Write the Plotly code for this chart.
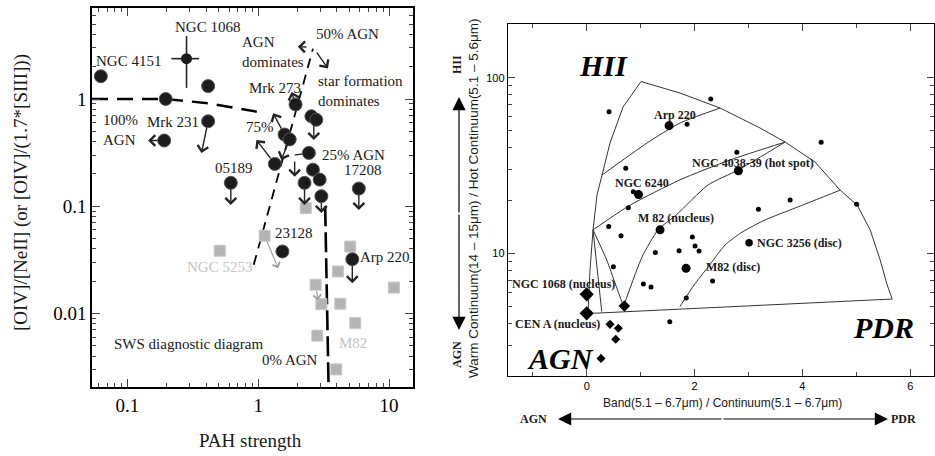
import numpy as np
import plotly.graph_objects as go

W, H = 935, 456

# ---------------- left panel data (PAH strength vs [OIV]/[NeII]) ----------------
circ_x = [0.0626, 0.414, 0.196, 0.414, 0.191, 0.617, 1.34, 1.59, 1.74, 1.93, 2.55, 2.78,
          2.44, 2.62, 2.95, 2.26, 3.04, 5.88, 1.53, 5.24]
circ_y = [1.63, 1.32, 1.0, 0.62, 0.41, 0.165, 0.248, 0.466, 0.42, 0.89, 0.69, 0.64,
          0.314, 0.219, 0.177, 0.165, 0.124, 0.146, 0.0378, 0.032]
n1068_x = [0.283]
n1068_y = [2.38]
n1068_xlo = [0.217]
n1068_xhi = [0.353]
n1068_ylo = [1.27]
n1068_yhi = [3.86]
sq_x = [0.508, 1.12, 5.05, 4.07, 2.75, 3.04, 4.24, 10.9, 5.52, 2.83, 3.95, 2.31]
sq_y = [0.0384, 0.053, 0.042, 0.0246, 0.0185, 0.0122, 0.0123, 0.0174, 0.0081, 0.0062, 0.003, 0.096]
# limit / direction arrows: tail -> head
arr_tail_x = [0.414, 0.191, 0.617, 1.34, 1.59, 1.74, 1.93, 2.66, 1.90, 2.26, 3.04, 5.88, 5.24, 2.62, 2.62]
arr_tail_y = [0.62, 0.41, 0.165, 0.248, 0.466, 0.42, 0.89, 0.665, 0.30, 0.165, 0.124, 0.146, 0.032, 3.05, 3.05]
arr_head_x = [0.368, 0.144, 0.617, 0.969, 1.30, 1.50, 1.80, 2.66, 1.90, 2.26, 3.04, 5.88, 5.24, 2.01, 3.41]
arr_head_y = [0.313, 0.41, 0.1026, 0.415, 0.735, 0.27, 1.16, 0.415, 0.188, 0.1026, 0.0865, 0.092, 0.0191, 3.07, 1.93]
garr_tail_x = [1.12, 2.75]
garr_tail_y = [0.053, 0.0185]
garr_head_x = [1.42, 2.86]
garr_head_y = [0.0264, 0.0133]
brk_x = [2.44, 1.90]
brk_y = [0.314, 0.30]
mix_x = [0.0536, 0.196, 0.412, 0.975]
mix_y = [1.0, 1.0, 0.912, 0.761]
diag_x = [0.924, 2.62]
diag_y = [0.0284, 2.94]
vert_x = [3.25, 3.45]
vert_y = [0.100, 0.0021]

# ---------------- right panel data (Laurent et al. diagnostic) ----------------
dot_x = [0.414, 2.30, 1.861, 0.724, 2.783, 4.347, 0.865, 0.772, 3.184, 3.772, 5.006, 0.408,
         0.636, 1.273, 1.712, 1.959, 2.009, 2.083, 0.494, 2.334, 1.050, 1.193, 1.846, 1.540]
dot_y = [64.0, 75.6, 54.3, 30.5, 37.6, 42.9, 22.4, 18.2, 17.8, 20.1, 19.0, 14.2,
         12.6, 10.1, 10.35, 12.4, 11.0, 10.3, 8.39, 6.96, 6.69, 6.43, 5.56, 4.08]
big_x = [1.527, 2.813, 0.961, 1.360, 1.842]
big_y = [53.3, 29.5, 21.6, 13.6, 8.21]
mid_x = [3.011]
mid_y = [11.5]
dia_big_x = [0.0, 0.0]
dia_big_y = [5.84, 4.55]
dia_mid_x = [0.698]
dia_mid_y = [5.01]
dia_sm_x = [0.432, 0.586, 0.538, 0.265]
dia_sm_y = [3.94, 3.74, 3.24, 2.52]

outer_x = [0.024, 0.061, 0.117, 0.191, 0.284, 0.432, 0.673, 1.007, 1.729, 2.473, 3.215, 3.679,
           4.234, 4.70, 5.016, 5.256, 5.442, 5.572, 5.664, 0.024]
outer_y = [4.54, 8.03, 13.6, 21.5, 27.9, 42.5, 68.1, 95.1, 81.8, 67.2, 51.7, 43.0,
           33.1, 22.9, 18.8, 13.6, 9.16, 6.60, 5.49, 4.54]
arp_x = [0.284, 1.119, 1.729, 2.473]
arp_y = [27.9, 42.5, 55.2, 67.2]
l6240_x = [0.117, 0.803, 1.729, 2.659, 3.679]
l6240_y = [13.6, 18.8, 26.2, 34.0, 43.0]
l4038_x = [0.683, 1.026, 1.323, 1.657, 2.25, 2.807, 3.679]
l4038_y = [4.98, 9.53, 13.6, 16.5, 24.5, 29.8, 43.0]
node1_x = [0.117, 0.278]
node1_y = [13.6, 4.66]
node2_x = [0.117, 0.371, 0.525, 0.683]
node2_y = [13.6, 9.16, 6.77, 4.98]
l3256_x = [1.729, 1.991, 2.25, 2.566, 2.881, 3.308, 3.864, 4.70]
l3256_y = [4.98, 6.60, 8.36, 11.15, 13.2, 15.5, 18.1, 22.9]

SERIF = "Liberation Serif"
SANS = "Liberation Sans"

fig = go.Figure()

# ---- left panel traces ----
def dline(x, y, dash, width=2.2):
    fig.add_trace(go.Scatter(x=x, y=y, mode="lines", xaxis="x", yaxis="y",
                             line=dict(color="black", width=width, dash=dash),
                             hoverinfo="skip", showlegend=False))

dline(mix_x, mix_y, "16px,9px", 2.4)
dline(diag_x, diag_y, "10px,7px", 1.8)
dline(vert_x, vert_y, "20px,6px", 2.6)
fig.add_trace(go.Scatter(x=brk_x, y=brk_y, mode="lines", xaxis="x", yaxis="y",
                         line=dict(color="#222", width=1.3), showlegend=False))
fig.add_trace(go.Scatter(x=sq_x, y=sq_y, mode="markers", xaxis="x", yaxis="y",
                         marker=dict(symbol="square", size=11, color="#b4b4b4",
                                     line=dict(color="#c8c8c8", width=1)),
                         showlegend=False))
fig.add_trace(go.Scatter(x=circ_x, y=circ_y, mode="markers", xaxis="x", yaxis="y",
                         marker=dict(symbol="circle", size=13, color="#1c1c1c",
                                     line=dict(color="#555", width=1)),
                         showlegend=False))
fig.add_trace(go.Scatter(x=n1068_x, y=n1068_y, mode="markers", xaxis="x", yaxis="y",
                         marker=dict(symbol="circle", size=11, color="#1c1c1c"),
                         error_x=dict(type="data", symmetric=False, width=0, thickness=1.6, color="#222",
                                      array=[n1068_xhi[0] - n1068_x[0]],
                                      arrayminus=[n1068_x[0] - n1068_xlo[0]]),
                         error_y=dict(type="data", symmetric=False, width=0, thickness=1.6, color="#222",
                                      array=[n1068_yhi[0] - n1068_y[0]],
                                      arrayminus=[n1068_y[0] - n1068_ylo[0]]),
                         showlegend=False))

# ---- right panel traces ----
def rline(x, y):
    fig.add_trace(go.Scatter(x=x, y=y, mode="lines", xaxis="x2", yaxis="y2",
                             line=dict(color="#333", width=1, shape="spline", smoothing=0.6),
                             hoverinfo="skip", showlegend=False))

for lx, ly in [(arp_x, arp_y), (l6240_x, l6240_y), (l4038_x, l4038_y),
               (node1_x, node1_y), (node2_x, node2_y), (l3256_x, l3256_y)]:
    rline(lx, ly)
fig.add_trace(go.Scatter(x=outer_x, y=outer_y, mode="lines", xaxis="x2", yaxis="y2",
                         line=dict(color="#333", width=1), hoverinfo="skip", showlegend=False))

def rmark(x, y, sym, size):
    fig.add_trace(go.Scatter(x=x, y=y, mode="markers", xaxis="x2", yaxis="y2",
                             marker=dict(symbol=sym, size=size, color="black"),
                             showlegend=False))

rmark(dot_x, dot_y, "circle", 5)
rmark(big_x, big_y, "circle", 9)
rmark(mid_x, mid_y, "circle", 7.5)
rmark(dia_big_x, dia_big_y, "diamond", 11)
rmark(dia_mid_x, dia_mid_y, "diamond", 9)
rmark(dia_sm_x, dia_sm_y, "diamond", 7)

# ---------------- annotations ----------------
ann = []
L = np.log10
for tx, ty, hx, hy in zip(arr_tail_x, arr_tail_y, arr_head_x, arr_head_y):
    ann.append(dict(xref="x", yref="y", axref="x", ayref="y", x=L(hx), y=L(hy), ax=L(tx), ay=L(ty),
                    text="", showarrow=True, arrowhead=4, arrowsize=1.5, arrowwidth=1.4,
                    arrowcolor="#222", startstandoff=5))
for tx, ty, hx, hy in zip(garr_tail_x, garr_tail_y, garr_head_x, garr_head_y):
    ann.append(dict(xref="x", yref="y", axref="x", ayref="y", x=L(hx), y=L(hy), ax=L(tx), ay=L(ty),
                    text="", showarrow=True, arrowhead=4, arrowsize=1.4, arrowwidth=1.1,
                    arrowcolor="#9a9a9a", startstandoff=5))

def txt(s, px, py, size=15, family=SERIF, color="#1a1a1a", angle=0, xanchor="center", **kw):
    font = dict(family=family, size=size, color=color)
    font.update(kw)
    ann.append(dict(xref="paper", yref="paper", x=px / W, y=1 - py / H, text=s, showarrow=False,
                    font=font, textangle=angle, xanchor=xanchor, yanchor="middle", align="left"))

# left panel labels
txt("NGC 1068", 207, 27)
txt("NGC 4151", 128, 61)
txt("AGN<br>dominates", 273, 52)
txt("50% AGN", 347, 34)
txt("star formation<br>dominates", 360, 91, xanchor="center")
txt("Mrk 273", 275, 88)
txt("100%<br>AGN", 101, 130, xanchor="left")
txt("Mrk 231", 173, 122)
txt("75%", 260, 127)
txt("25% AGN", 353, 155)
txt("17208", 363, 170)
txt("05189", 234, 168)
txt("23128", 294, 233)
txt("NGC 5253", 219, 267, color="#c4c4c4")
txt("Arp 220", 385, 257)
txt("M82", 353, 343, color="#c4c4c4")
txt("SWS diagnostic diagram", 188, 344)
txt("0% AGN", 290, 360)
txt("PAH strength", 250, 440, size=19)
txt("[OIV]/[NeII] (or [OIV]/(1.7*[SIII]))", 21, 193, size=19, angle=-90)

# right panel labels
B = dict(weight="bold")
RS = 12
txt("Arp 220", 675, 115, size=RS, **B)
txt("NGC 4038-39 (hot spot)", 753, 163, size=RS, **B)
txt("NGC 6240", 642, 183, size=RS, **B)
txt("M 82 (nucleus)", 676, 218, size=RS, **B)
txt("NGC 3256 (disc)", 755, 243, size=RS, xanchor="left", **B)
txt("M82 (disc)", 733, 267, size=RS, **B)
txt("NGC 1068 (nucleus)", 510, 284, size=RS, xanchor="left", **B)
txt("CEN A (nucleus)", 513, 324, size=RS, xanchor="left", **B)
txt("HII", 603, 65, size=30, weight="bold", style="italic", color="black")
txt("AGN", 560, 358, size=30, weight="bold", style="italic", color="black")
txt("PDR", 883, 327, size=30, weight="bold", style="italic", color="black")
txt("Band(5.1 \u2013 6.7\u03bcm) / Continuum(5.1 \u2013 6.7\u03bcm)", 722, 403, size=12, family=SANS)
txt("Warm Continuum(14 \u2013 15\u03bcm) / Hot Continuum(5.1 \u2013 5.6\u03bcm)", 473, 199, size=13.5,
    family=SANS, angle=-90)
txt("AGN", 533, 419, size=RS, **B)
txt("PDR", 903, 419, size=RS, **B)
txt("HII", 457, 65, size=RS, angle=-90, **B)
txt("AGN", 457, 355, size=RS, angle=-90, **B)

# double arrows (paper-anchored)
def parrow(hx, hy, tx, ty):
    ann.append(dict(xref="paper", yref="paper", x=hx / W, y=1 - hy / H, ax=tx - hx, ay=ty - hy,
                    text="", showarrow=True, arrowhead=2, arrowsize=2.2, arrowwidth=1.2,
                    arrowcolor="black"))

parrow(459, 97, 459, 214)
parrow(459, 330, 459, 213)
parrow(558, 419, 723, 419)
parrow(888, 419, 722, 419)

tickfont_l = dict(family=SERIF, size=19, color="black")
tickfont_r = dict(family=SANS, size=11, color="black")

fig.update_layout(
    width=W, height=H, margin=dict(l=0, r=0, t=0, b=0),
    paper_bgcolor="white", plot_bgcolor="white", showlegend=False,
    annotations=ann,
    xaxis=dict(type="log", domain=[92 / W, 413 / W], range=[-1.271, 1.1835], anchor="y",
               tickmode="array", tickvals=[0.1, 1, 10], ticktext=["0.1", "1", "10"],
               ticks="inside", ticklen=8, tickwidth=1.3, mirror="allticks", showline=True,
               linecolor="black", linewidth=1.6, showgrid=False, zeroline=False,
               tickfont=tickfont_l,
               minor=dict(ticks="inside", ticklen=4, tickwidth=1, tickvals=[
                   v * d for d in (0.01, 0.1, 1, 10) for v in range(2, 10)], showgrid=False)),
    yaxis=dict(type="log", domain=[1 - 387 / H, 1 - 8 / H], range=[-2.687, 0.849], anchor="x",
               tickmode="array", tickvals=[0.01, 0.1, 1], ticktext=["0.01", "0.1", "1"],
               ticks="inside", ticklen=8, tickwidth=1.3, mirror="allticks", showline=True,
               linecolor="black", linewidth=1.6, showgrid=False, zeroline=False,
               tickfont=tickfont_l,
               minor=dict(ticks="inside", ticklen=4, tickwidth=1, tickvals=[
                   v * d for d in (0.001, 0.01, 0.1, 1) for v in range(2, 10)], showgrid=False)),
    xaxis2=dict(domain=[508 / W, 934 / W], range=[-1.46, 6.44], anchor="y2",
                tickmode="array", tickvals=[0, 2, 4, 6], ticks="inside", ticklen=7, tickwidth=1.2,
                mirror="allticks", showline=True, linecolor="black", linewidth=1.4,
                showgrid=False, zeroline=False, tickfont=tickfont_r,
                minor=dict(ticks="inside", ticklen=4, tickwidth=1, tickvals=[-1, 1, 3, 5],
                           showgrid=False)),
    yaxis2=dict(type="log", domain=[1 - 376 / H, 1 - 24 / H], range=[0.3013, 2.3058], anchor="x2",
                tickmode="array", tickvals=[10, 100], ticktext=["10", "100"],
                ticks="inside", ticklen=7, tickwidth=1.2, mirror="allticks", showline=True,
                linecolor="black", linewidth=1.4, showgrid=False, zeroline=False,
                tickfont=tickfont_r,
                minor=dict(ticks="inside", ticklen=4, tickwidth=1, tickvals=[
                    v * d for d in (1, 10, 100) for v in range(2, 10)], showgrid=False)),
)

fig.write_html("out.html", config={"displayModeBar": False},
               post_script="document.body.style.margin='0px';document.body.style.overflow='hidden';")
